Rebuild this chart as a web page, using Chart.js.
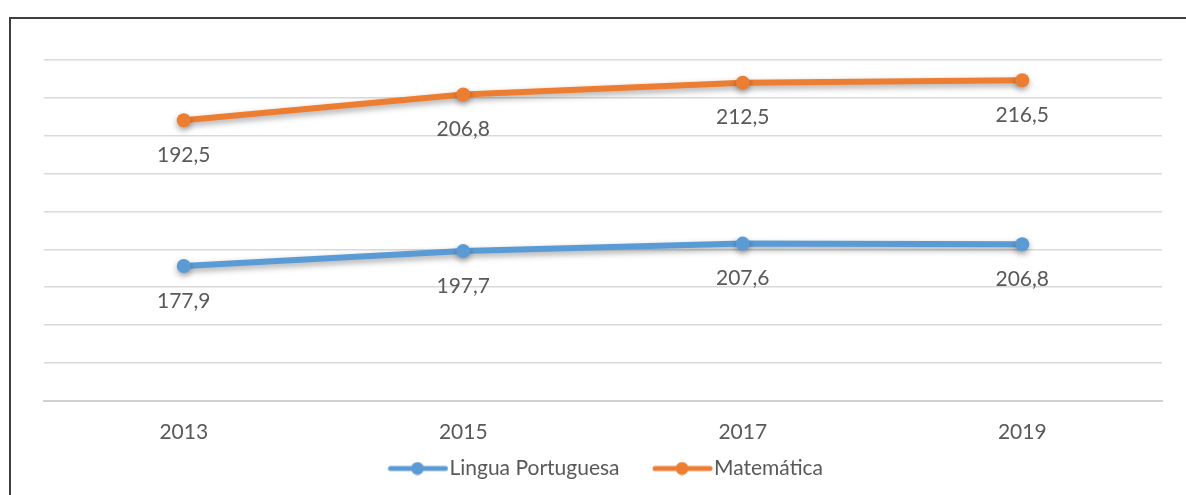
<!DOCTYPE html>
<html>
<head>
<meta charset="utf-8">
<script src="https://cdn.jsdelivr.net/npm/chart.js@4"></script>
<style>
  html, body { margin: 0; padding: 0; background: #fff; }
  #frame {
    position: absolute; left: 9px; top: 17px; width: 1200px; height: 500px;
    border-left: 2px solid #3f3f3f; border-top: 2px solid #3f3f3f;
  }
  #wrap { position: absolute; left: 0; top: 0; width: 1186px; height: 495px; }
</style>
</head>
<body>
<div id="frame"></div>
<div id="wrap"><canvas id="lineChart" width="1186" height="495"></canvas></div>
<script>
//data
var years = ["2013", "2015", "2017", "2019"];
var portugues = [177.9, 197.7, 207.6, 206.8];
var matematica = [192.5, 206.8, 212.5, 216.5];

//colours
var blue = "#5b9bd5";
var orange = "#ed7d31";
var textColor = "#595959";
var fontFamily = "Lato, 'Open Sans', sans-serif";

// legend marker: short line with a dot in the middle, sitting at the right of the image
// so it ends right next to the legend text
function legendMarker(color) {
    var c = document.createElement("canvas");
    c.width = 101;
    c.height = 14;
    var ctx = c.getContext("2d");
    ctx.strokeStyle = color;
    ctx.lineWidth = 5;
    ctx.lineCap = "round";
    ctx.beginPath();
    ctx.moveTo(43, 7);
    ctx.lineTo(98, 7);
    ctx.stroke();
    ctx.fillStyle = color;
    ctx.beginPath();
    ctx.arc(70, 7, 6.5, 0, Math.PI * 2);
    ctx.fill();
    return c;
}

// soft shadow under the lines
var lineShadow = {
    id: "lineShadow",
    beforeDatasetsDraw: function(chart) {
        var ctx = chart.ctx;
        ctx.save();
        ctx.shadowColor = "rgba(0,0,0,0.35)";
        ctx.shadowBlur = 6;
        ctx.shadowOffsetY = 3;
    },
    afterDatasetsDraw: function(chart) {
        chart.ctx.restore();
    }
};

// nudge the legend a bit left (the marker images have empty space on their left)
var legendNudge = {
    id: "legendNudge",
    afterLayout: function(chart) {
        if (chart.legend) {
            chart.legend.left -= 13;
            chart.legend.right -= 13;
        }
    }
};

// value labels under each point
var valueLabels = {
    id: "valueLabels",
    afterDatasetsDraw: function(chart) {
        var ctx = chart.ctx;
        ctx.save();
        ctx.font = "21px " + fontFamily;
        ctx.fillStyle = textColor;
        ctx.textAlign = "center";
        ctx.textBaseline = "middle";
        chart.data.datasets.forEach(function(ds, i) {
            var meta = chart.getDatasetMeta(i);
            meta.data.forEach(function(pt, j) {
                var txt = String(ds.data[j]).replace(".", ",");
                ctx.fillText(txt, pt.x, pt.y + 35);
            });
        });
        ctx.restore();
    }
};

new Chart("lineChart", {
    type: "line",
    data: {
        labels: years,
        datasets: [{
            label: "Lingua Portuguesa",
            data: portugues,
            borderColor: blue,
            backgroundColor: blue,
            borderWidth: 6,
            pointRadius: 7,
            pointHoverRadius: 7,
            pointBorderWidth: 0,
            fill: false,
            tension: 0
        }, {
            label: "Matemática",
            data: matematica,
            borderColor: orange,
            backgroundColor: orange,
            borderWidth: 6,
            pointRadius: 7,
            pointHoverRadius: 7,
            pointBorderWidth: 0,
            fill: false,
            tension: 0
        }]
    },
    options: {
        responsive: false,
        animation: false,
        layout: {
            padding: { left: 44, right: 24, top: 60, bottom: 6 }
        },
        scales: {
            x: {
                offset: true,
                grid: { display: false },
                border: { color: "#d0d0d0", width: 2 },
                ticks: {
                    color: textColor,
                    font: { family: fontFamily, size: 21 },
                    padding: 11
                }
            },
            y: {
                stacked: true,
                min: 0,
                max: 450,
                grid: { color: "#d9d9d9", lineWidth: 1.5, drawTicks: false },
                border: { display: false },
                ticks: { display: false, stepSize: 50 }
            }
        },
        plugins: {
            legend: {
                position: "bottom",
                labels: {
                    usePointStyle: true,
                    pointStyleWidth: 82,
                    padding: 2,
                    color: textColor,
                    font: { family: fontFamily, size: 21 },
                    generateLabels: function(chart) {
                        return chart.data.datasets.map(function(ds, i) {
                            return {
                                text: ds.label,
                                fillStyle: ds.borderColor,
                                strokeStyle: ds.borderColor,
                                fontColor: textColor,
                                lineWidth: 0,
                                pointStyle: legendMarker(ds.borderColor),
                                datasetIndex: i,
                                hidden: false
                            };
                        });
                    }
                }
            },
            tooltip: { enabled: false }
        }
    },
    plugins: [lineShadow, legendNudge, valueLabels]
});
</script>
</body>
</html>
